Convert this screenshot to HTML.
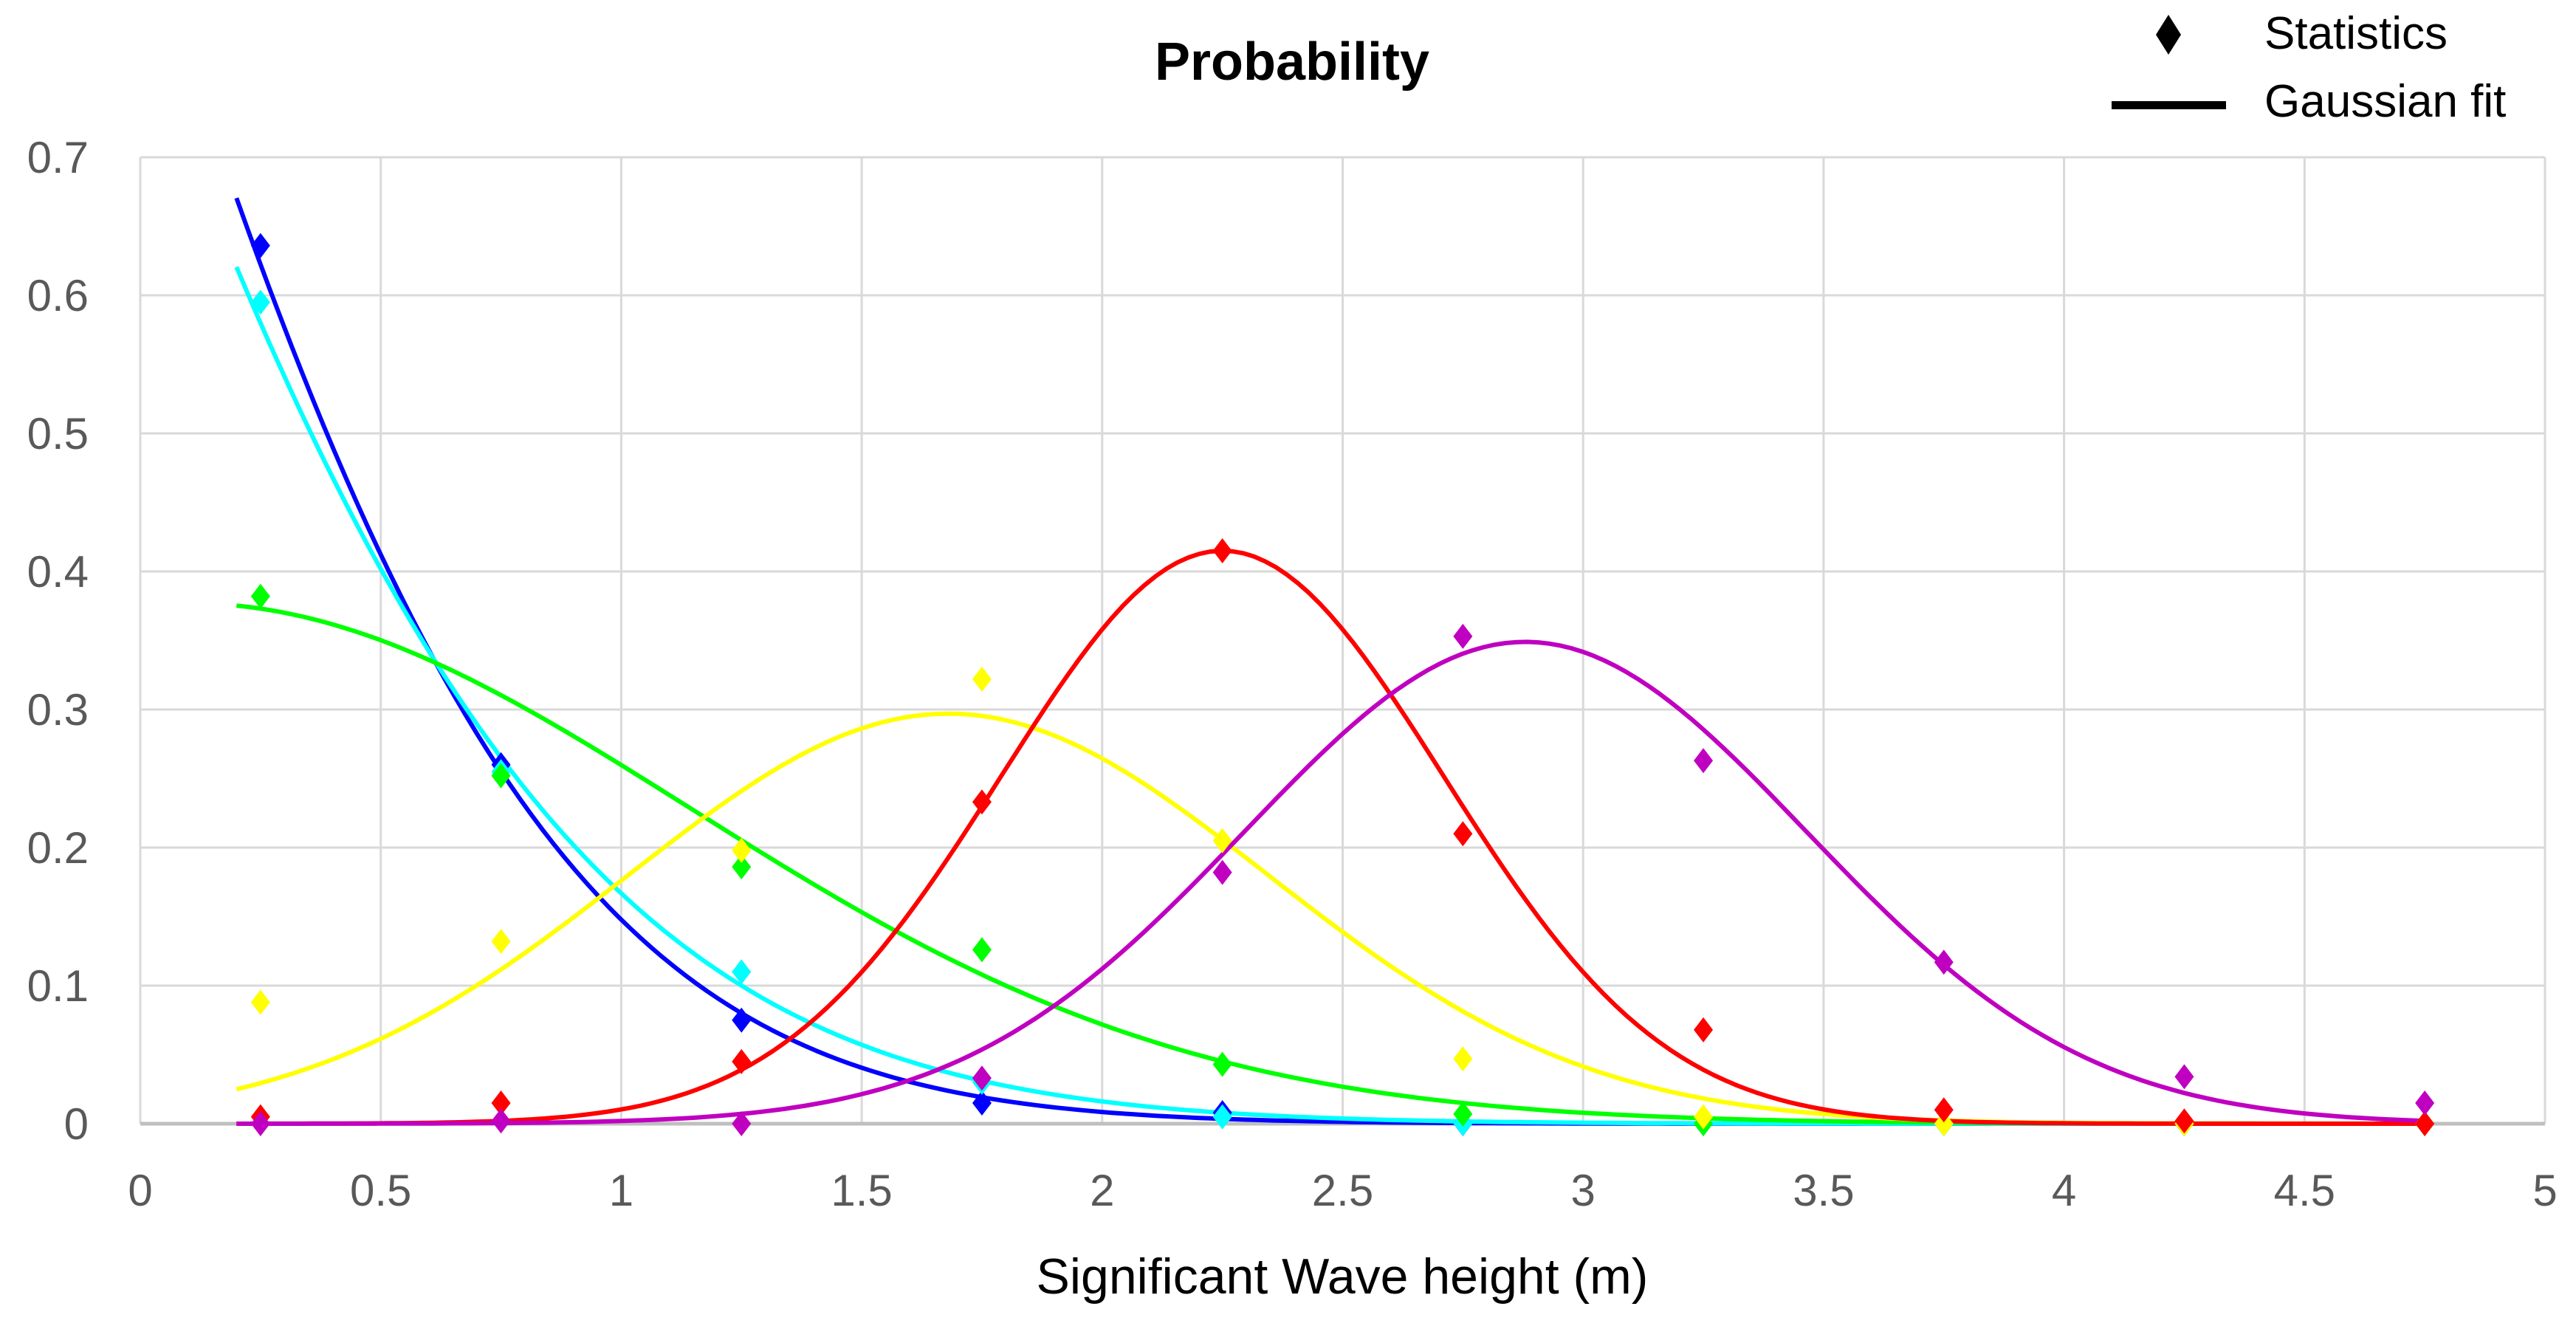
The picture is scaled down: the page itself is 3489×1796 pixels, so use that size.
<!DOCTYPE html>
<html><head><meta charset="utf-8"><style>
html,body{margin:0;padding:0;background:#fff;}
svg{display:block;font-family:"Liberation Sans",sans-serif;}
</style></head><body>
<svg id="chart" width="3489" height="1796" viewBox="0 0 3489 1796" xmlns="http://www.w3.org/2000/svg">
<text x="1750" y="108" font-size="72" font-weight="bold" text-anchor="middle" fill="#000">Probability</text>
<text x="1818" y="1752" font-size="68" text-anchor="middle" fill="#000">Significant Wave height (m)</text>
<g id="grid"></g>
<g id="ticks"></g>
<g id="lines"></g>
<g id="points"></g>
<g>
  <path d="M2937 20 L2954 47 L2937 74 L2920 47 Z" fill="#000"/>
  <text x="3067" y="66" font-size="62" fill="#000">Statistics</text>
  <rect x="2860" y="137" width="155" height="11" fill="#000"/>
  <text x="3067" y="158" font-size="62" fill="#000">Gaussian fit</text>
</g>
</svg>
<script>
const xCats = [0.25,0.75,1.25,1.75,2.25,2.75,3.25,3.75,4.25,4.75];
const xTicks = ["0","0.5","1","1.5","2","2.5","3","3.5","4","4.5","5"];
const yTicks = ["0","0.1","0.2","0.3","0.4","0.5","0.6","0.7"];
const seriesColors = ["#0000ff","#00ffff","#00ff00","#ffff00","#ff0000","#c000c0"];
const blueStats = [0.636,0.26,0.075,0.015,0.008,0,0,0,0,0];
const cyanStats = [0.595,0.255,0.11,0.03,0.005,0,0,0,0,0];
const greenStats = [0.382,0.252,0.186,0.126,0.043,0.007,0,0,0,0];
const yellowStats = [0.088,0.132,0.198,0.322,0.205,0.047,0.005,0,0,0];
const redStats = [0.005,0.015,0.045,0.233,0.415,0.21,0.068,0.01,0.002,0];
const magentaStats = [0,0.002,0,0.033,0.182,0.353,0.263,0.117,0.034,0.015];
const fitAmp = [1.81,1.96,0.377,0.297,0.415,0.349];
const fitMu = [-1.16,-1.526,0.099,1.68,2.25,2.88];
const fitSigma = [0.965,1.138,1.044,0.665,0.46,0.584];
const fitStart = 0.2, fitEnd = 4.75;

const NS="http://www.w3.org/2000/svg";
const X0=190, X1=3447, Y0=1522, Y1=213;
const xs = v => X0 + (v/5)*(X1-X0);
const ys = v => Y0 - (v/0.7)*(Y0-Y1);
function mk(tag, attrs, parent){const e=document.createElementNS(NS,tag);for(const k in attrs)e.setAttribute(k,attrs[k]);parent.appendChild(e);return e;}

const grid=document.getElementById('grid');
xTicks.forEach((t,i)=>{const x=xs(parseFloat(t));
  const l=mk('line',{x1:x,x2:x,y1:Y1,y2:Y0,stroke:'#d9d9d9','stroke-width':3},grid);
  
  });
yTicks.forEach((t,i)=>{const y=ys(parseFloat(t));
  const l=mk('line',{x1:X0,x2:X1,y1:y,y2:y,stroke:i===0?'#bfbfbf':'#d9d9d9','stroke-width':i===0?5:3},grid);
  
  });

const ticks=document.getElementById('ticks');
xTicks.forEach(t=>{const e=mk('text',{x:xs(parseFloat(t)),y:1633,'font-size':60,'text-anchor':'middle',fill:'#595959'},ticks);e.textContent=t;
  
  });
yTicks.forEach(t=>{const e=mk('text',{x:120,y:ys(parseFloat(t))+21,'font-size':60,'text-anchor':'end',fill:'#595959'},ticks);e.textContent=t;
  
  });

const lines=document.getElementById('lines');
const names=['blue','cyan','green','yellow','red','magenta'];
for(let s=0;s<6;s++){
  let d='';
  for(let k=0;k<=200;k++){const x=fitStart+(fitEnd-fitStart)*k/200;
    const v=fitAmp[s]*Math.exp(-Math.pow(x-fitMu[s],2)/(2*fitSigma[s]*fitSigma[s]));
    d+=(k?'L':'M')+xs(x).toFixed(1)+' '+ys(v).toFixed(1);}
  const p=mk('path',{d:d,fill:'none',stroke:seriesColors[s],'stroke-width':6,'stroke-linejoin':'round'},lines);
  
  
}
const pts=document.getElementById('points');
const allStats=[blueStats,cyanStats,greenStats,yellowStats,redStats,magentaStats];
allStats.forEach((arr,s)=>{arr.forEach((v,i)=>{const x=xs(xCats[i]),y=ys(v);
  const p=mk('path',{d:`M${x} ${y-17} L${x+13} ${y} L${x} ${y+17} L${x-13} ${y} Z`,fill:seriesColors[s]},pts);
  
  });});
</script>
</body></html>
